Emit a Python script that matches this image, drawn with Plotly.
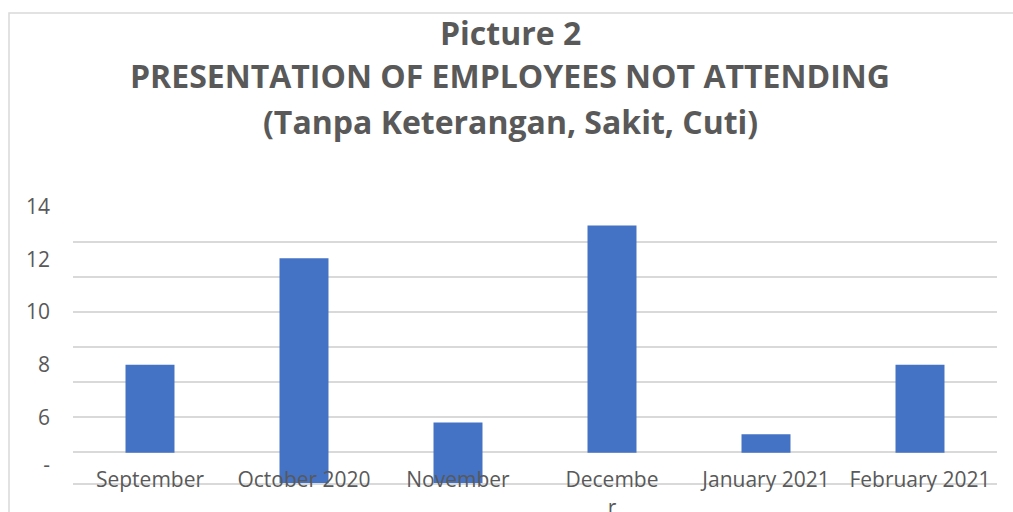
import plotly.graph_objects as go

# ---- data ----
categories = ["September", "October 2020", "November", "December", "January 2021", "February 2021"]
tick_labels = ["September", "October 2020", "November", "Decembe<br>r", "January 2021", "February 2021"]
bar_top = [8.0, 12.05, 5.8, 13.3, 5.35, 8.0]
bar_floor = [4.65, 3.5, 3.5, 4.65, 4.65, 4.65]
y_tick_values = [4.2, 6, 8, 10, 12, 14]
y_tick_labels = ["-", "6", "8", "10", "12", "14"]
title_lines = ["Picture 2", "PRESENTATION OF EMPLOYEES NOT ATTENDING", "(Tanpa Keterangan, Sakit, Cuti)"]

heights = [t - f for t, f in zip(bar_top, bar_floor)]

TXT = "#595959"
GRID = "#d9d9d9"
FONT = "Open Sans"

fig = go.Figure(go.Bar(
    x=categories, y=heights, base=bar_floor,
    marker=dict(color="#4472C4", line=dict(width=0)),
    hoverinfo="skip",
))

W, H = 1013, 512
L, R, T, B = 73, 16, 207, 29
pw, ph = W - L - R, H - T - B

def px(xp):
    return (xp - L) / pw

def py(yp):
    return (H - B - yp) / ph

fig.update_layout(
    width=W, height=H, autosize=False,
    margin=dict(l=L, r=R, t=T, b=B, autoexpand=False),
    paper_bgcolor="white", plot_bgcolor="white",
    showlegend=False,
    bargap=0.682,
    font=dict(family=FONT, color=TXT),
    xaxis=dict(
        type="category", tickmode="array", tickvals=categories, ticktext=tick_labels,
        showline=True, linecolor=GRID, linewidth=2, ticks="", showgrid=False,
        tickfont=dict(size=21, color=TXT, family=FONT), ticklabelstandoff=-23,
        automargin=False, fixedrange=True,
    ),
    yaxis=dict(
        range=[3.5, 14], tickmode="array", tickvals=y_tick_values, ticktext=y_tick_labels,
        showgrid=False, zeroline=False, showline=False, ticks="",
        tickfont=dict(size=21, color=TXT, family=FONT), ticklabelstandoff=22,
        minor=dict(tick0=14, dtick=4 / 3, showgrid=True, gridcolor=GRID, gridwidth=2, ticks=""),
        automargin=False, fixedrange=True,
    ),
)

ys = [32, 76, 122]
for line, yp in zip(title_lines, ys):
    fig.add_annotation(
        text="<b>%s</b>" % line, xref="paper", yref="paper", x=px(510), y=py(yp),
        xanchor="center", yanchor="middle", showarrow=False,
        font=dict(size=32, color=TXT, family=FONT),
    )

fig.add_shape(type="rect", xref="paper", yref="paper",
              x0=px(9), x1=px(1030), y0=py(530), y1=py(13),
              line=dict(color=GRID, width=1.5), layer="below")

fig.write_html("out.html")
